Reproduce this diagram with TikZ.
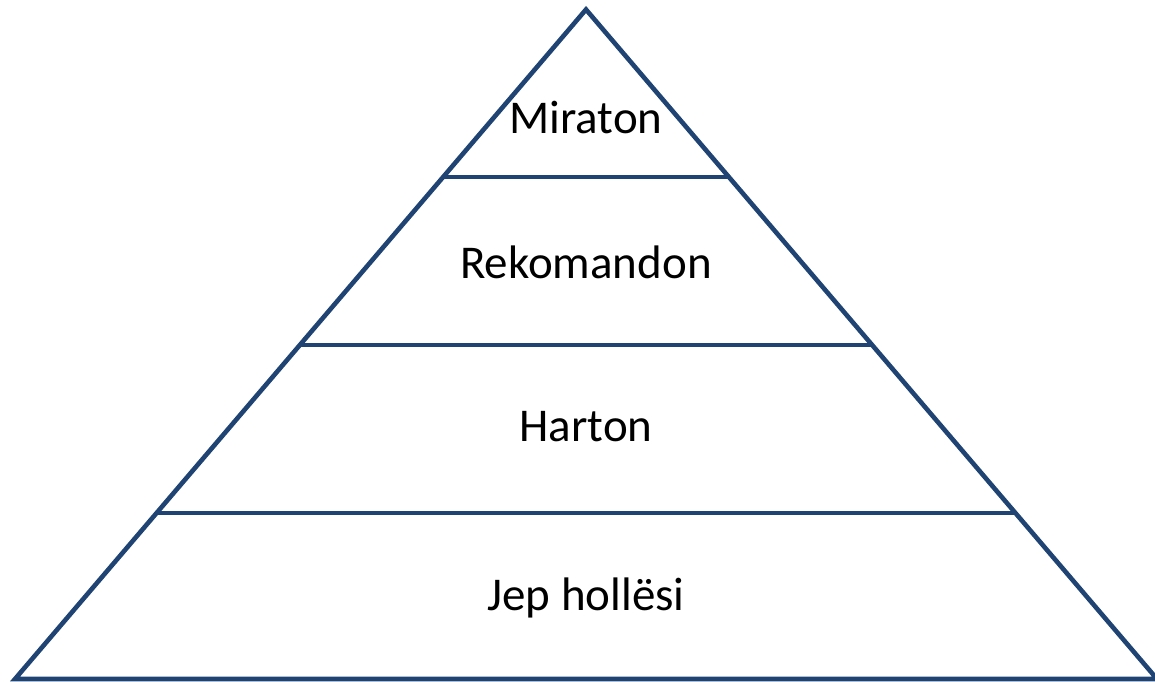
\documentclass[tikz,border=0pt]{standalone}
\usepackage{fontspec}
\setmainfont{Carlito}
\definecolor{pyr}{HTML}{1F4373}
\begin{document}
\begin{tikzpicture}[x=1pt,y=-1pt,
  edge/.style={draw=pyr,line width=4.6pt,line join=miter},
  lbl/.style={anchor=base,inner sep=0pt,font=\fontsize{47}{56}\selectfont,text=black}]
\useasboundingbox (0,0) rectangle (1155,681);
\coordinate (apex) at (586,9.5);
\coordinate (bl) at (15,679);
\coordinate (br) at (1157,679);
\coordinate (l1) at (443.7,177);
\coordinate (r1) at (728.3,177);
\coordinate (l2) at (300.5,345);
\coordinate (r2) at (871.5,345);
\coordinate (l3) at (157.3,513);
\coordinate (r3) at (1014.7,513);
\draw[edge] (bl) -- (apex) -- (br) -- cycle;
\draw[edge] (l1) -- (r1);
\draw[edge] (l2) -- (r2);
\draw[edge] (l3) -- (r3);
\node[lbl] (t1) at (586,133) {Miraton};
\node[lbl] (t2) at (586,278) {Rekomandon};
\node[lbl] (t3) at (586,441) {Harton};
\node[lbl] (t4) at (586,610) {Jep hollësi};
\end{tikzpicture}
\end{document}
